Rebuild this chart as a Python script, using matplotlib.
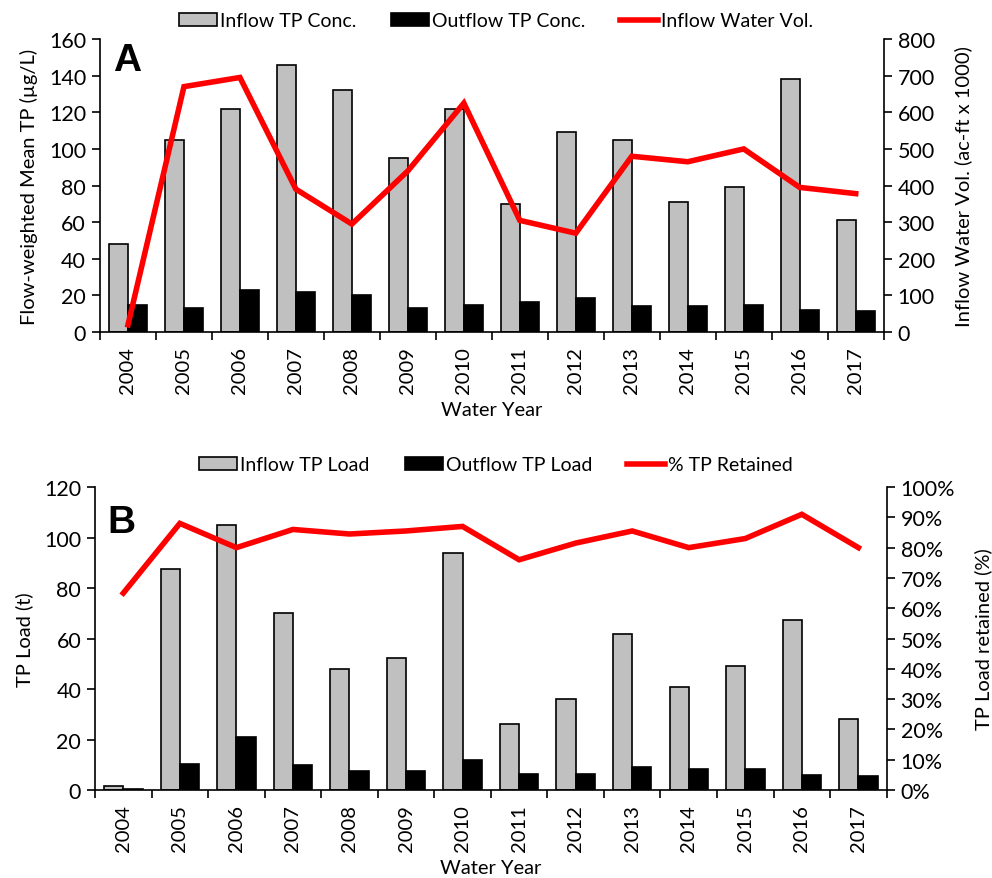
import numpy as np
import matplotlib.pyplot as plt
from matplotlib.ticker import PercentFormatter

plt.rcParams['font.family'] = ['Lato', 'DejaVu Sans']

years = ['2004', '2005', '2006', '2007', '2008', '2009', '2010',
         '2011', '2012', '2013', '2014', '2015', '2016', '2017']

# panel A
inflow_conc = [48, 105, 122, 146, 132, 95, 122, 70, 109, 105, 71, 79, 138, 61]
outflow_conc = [15, 13, 23, 22, 20, 13, 15, 16.5, 18.5, 14.5, 14.5, 15, 12, 11.5]
inflow_vol = [20, 670, 695, 390, 295, 440, 625, 305, 270, 480, 465, 500, 395, 378]

# panel B
inflow_load = [1.5, 87.5, 105, 70, 48, 52.5, 94, 26, 36, 62, 41, 49, 67.5, 28]
outflow_load = [0.5, 10.5, 21, 10, 7.5, 7.5, 12, 6.5, 6.5, 9, 8.5, 8.5, 6, 5.5]
pct_retained = [65, 88, 80, 86, 84.5, 85.5, 87, 76, 81.5, 85.5, 80, 83, 91, 80]

fig = plt.figure(figsize=(9.92, 8.79), dpi=100)
x = np.arange(len(years))
bw = 0.34


def panel(rect, gray, black, red, ylim1, yt1, ylim2, yt2, lab1, lab2, letter, lety, names, legy, pct=False):
    ax = fig.add_axes(rect)
    ax.bar(x - bw / 2, gray, bw, color='#c0c0c0', edgecolor='black', linewidth=1.2, label=names[0])
    ax.bar(x + bw / 2, black, bw, color='black', edgecolor='black', linewidth=1.2, label=names[1])
    ax.set_xlim(-0.5, len(years) - 0.5)
    ax.set_ylim(*ylim1)
    ax.set_yticks(yt1)
    ax.set_xticks(x)
    ax.set_xticklabels(years, rotation=90, fontsize=14.5)
    ax.set_xticks(np.arange(-0.5, len(years)), minor=True)
    ax.tick_params(axis='x', which='major', length=0, pad=10)
    ax.tick_params(axis='x', which='minor', length=6, width=1.2)
    ax.tick_params(axis='y', length=6, width=1.2, labelsize=15.5, pad=4)
    ax.spines['top'].set_visible(False)
    ax.spines['right'].set_visible(False)
    ax.spines['left'].set_linewidth(1.2)
    ax.spines['bottom'].set_linewidth(1.2)
    ax.set_ylabel(lab1, fontsize=14.5, labelpad=8)
    ax.set_xlabel('Water Year', fontsize=14.5, labelpad=6)
    ax.text(0.016, lety, letter, transform=ax.transAxes, fontsize=28,
            fontweight='bold', va='top', ha='left', family='Liberation Sans')

    ax2 = ax.twinx()
    ax2.plot(x, red, color='#ff0000', linewidth=4, solid_joinstyle='miter', label=names[2])
    ax2.set_ylim(*ylim2)
    ax2.set_yticks(yt2)
    if pct:
        ax2.yaxis.set_major_formatter(PercentFormatter(decimals=0))
    ax2.tick_params(axis='y', length=6, width=1.2, labelsize=15.5, pad=4)
    for s in ['top', 'left', 'bottom']:
        ax2.spines[s].set_visible(False)
    ax2.spines['right'].set_linewidth(1.2)
    ax2.set_ylabel(lab2, fontsize=14.5, labelpad=14)

    h1, l1 = ax.get_legend_handles_labels()
    h2, l2 = ax2.get_legend_handles_labels()
    fig.legend(h1 + h2, l1 + l2, loc='center', bbox_to_anchor=(0.5, legy), ncol=3,
               frameon=False, fontsize=14, handlelength=1.95, handletextpad=0.15,
               columnspacing=1.8, borderaxespad=0)
    return ax, ax2


panel([0.1008, 0.621, 0.790, 0.3335], inflow_conc, outflow_conc, inflow_vol,
      (0, 160), np.arange(0, 161, 20), (0, 800), np.arange(0, 801, 100),
      'Flow-weighted Mean TP (µg/L)', 'Inflow Water Vol. (ac-ft x 1000)', 'A', 0.99,
      ['Inflow TP Conc.', 'Outflow TP Conc.', 'Inflow Water Vol.'], 0.975)

panel([0.0958, 0.100, 0.798, 0.3448], inflow_load, outflow_load, pct_retained,
      (0, 120), np.arange(0, 121, 20), (0, 100), np.arange(0, 101, 10),
      'TP Load (t)', 'TP Load retained (%)', 'B', 0.945,
      ['Inflow TP Load', 'Outflow TP Load', '% TP Retained'], 0.470, pct=True)

fig.savefig('out.png', dpi=100)
